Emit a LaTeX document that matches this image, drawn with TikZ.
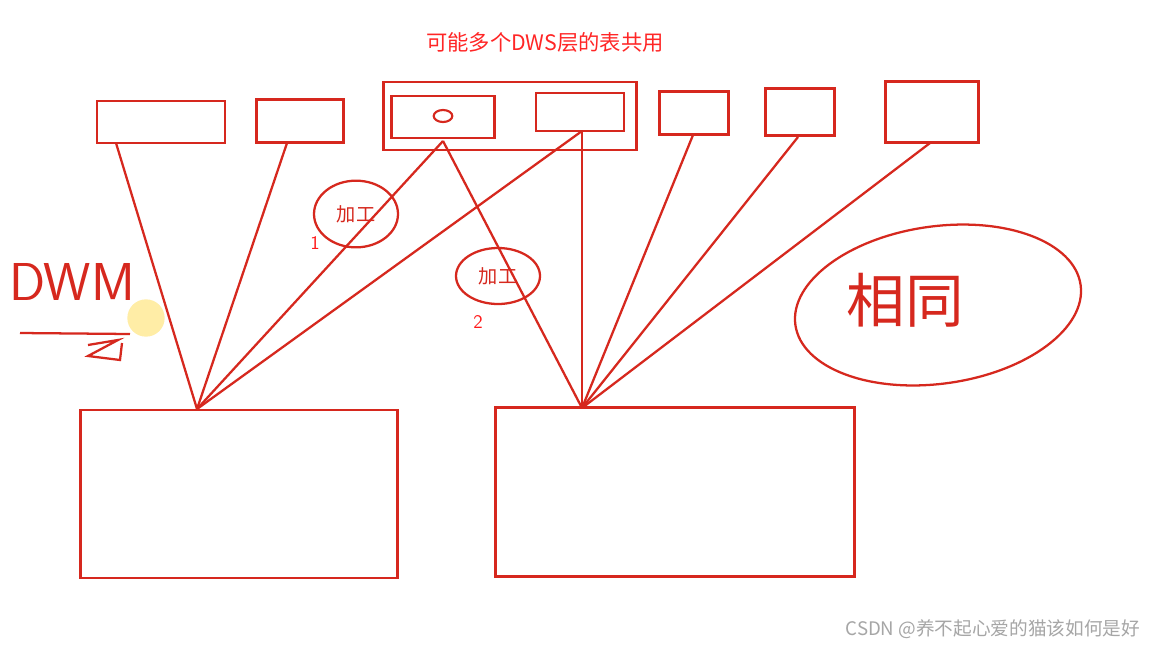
\documentclass[tikz,border=0pt]{standalone}
\usepackage{fontspec}
\newfontfamily\cjk{Noto Sans CJK SC}
\usetikzlibrary{shapes.geometric}
\definecolor{pen}{RGB}{214,40,30}
\begin{document}
\begin{tikzpicture}[x=0.75pt,y=-0.75pt,
  bx/.style={draw=pen,line width=2pt,inner sep=0pt},
  ln/.style={draw=pen,line width=1.7pt},
  hw/.style={text=pen,font=\cjk\Large}]
\useasboundingbox (0,0) rectangle (1159,647);
\fill[white] (0,0) rectangle (1159,647);
% top boxes
\node[bx,minimum width=96pt,minimum height=31.5pt] (b1) at (161,122) {};
\node[bx,minimum width=65pt,minimum height=32pt] (b2) at (300,121) {};
\node[bx,minimum width=190pt,minimum height=51pt] (grp) at (510,116) {};
\node[bx,minimum width=77pt,minimum height=31.5pt] (b3) at (443,117) {};
\node[draw=pen,line width=1.6pt,ellipse,minimum width=14pt,minimum height=9pt,inner sep=0pt] (o) at (443,116) {};
\node[bx,minimum width=66pt,minimum height=28.5pt] (b4) at (580,112) {};
\node[bx,minimum width=52pt,minimum height=32pt] (b5) at (694,113) {};
\node[bx,minimum width=52pt,minimum height=35pt] (b6) at (800,112) {};
\node[bx,minimum width=70pt,minimum height=46pt] (b7) at (932,112) {};
% bottom boxes
\node[bx,minimum width=238pt,minimum height=126pt] (L) at (239,494) {};
\node[bx,minimum width=269pt,minimum height=127pt] (R) at (675,492) {};
\coordinate (pl) at (197,409);
\coordinate (pr) at (582,408);
\coordinate (s1) at (116,143);
\coordinate (s2) at (287,143);
\coordinate (s3) at (443,141);
\coordinate (s4) at (582,131);
\coordinate (s5) at (693,135);
\coordinate (s6) at (798,137);
\coordinate (s7) at (930,143);
\draw[ln] (s1) -- (pl); \draw[ln] (s2) -- (pl); \draw[ln] (s3) -- (pl); \draw[ln] (s4) -- (pl);
\draw[ln] (s3) -- (pr); \draw[ln] (s4) -- (pr); \draw[ln] (s5) -- (pr); \draw[ln] (s6) -- (pr); \draw[ln] (s7) -- (pr);
% handwriting circles
\node[draw=pen,line width=1.7pt,ellipse,minimum width=63pt,minimum height=50pt,hw] (c1) at (356,214) {加工};
\node[text=red!90!white,font=\sffamily\Large] (n1) at (315,243) {1};
\node[draw=pen,line width=1.7pt,ellipse,minimum width=63pt,minimum height=42pt,hw] (c2) at (498,276) {加工};
\node[text=red!90!white,font=\sffamily\Large] (n2) at (478,322) {2};
\node[draw=pen,line width=1.7pt,ellipse,minimum width=216pt,minimum height=118pt,rotate=8] (c3) at (938,305) {};
\node[hw,font=\cjk\fontsize{44}{50}\selectfont] (t3) at (905,300) {相同};
% DWM
\fill[orange!40!yellow,opacity=0.35] (146,318) circle (14pt);
\node[text=pen,font=\sffamily\fontsize{40}{40}\selectfont] (dwm) at (72,282) {DWM};
\coordinate (u1) at (20,333); \coordinate (u2) at (130,334);
\draw[ln] (u1) -- (u2);
\draw[ln] (88,345) -- (118,340) -- (88,356) -- (120,360) -- (122,343);
% texts
\node[text=red!85!white,font=\cjk\fontsize{16}{18}\selectfont] (title) at (545,42) {可能多个DWS层的表共用};
\node[text=gray!70,font=\cjk\fontsize{14}{16}\selectfont,anchor=east] (wm) at (1145,629) {CSDN @养不起心爱的猫该如何是好};
\end{tikzpicture}
\end{document}
